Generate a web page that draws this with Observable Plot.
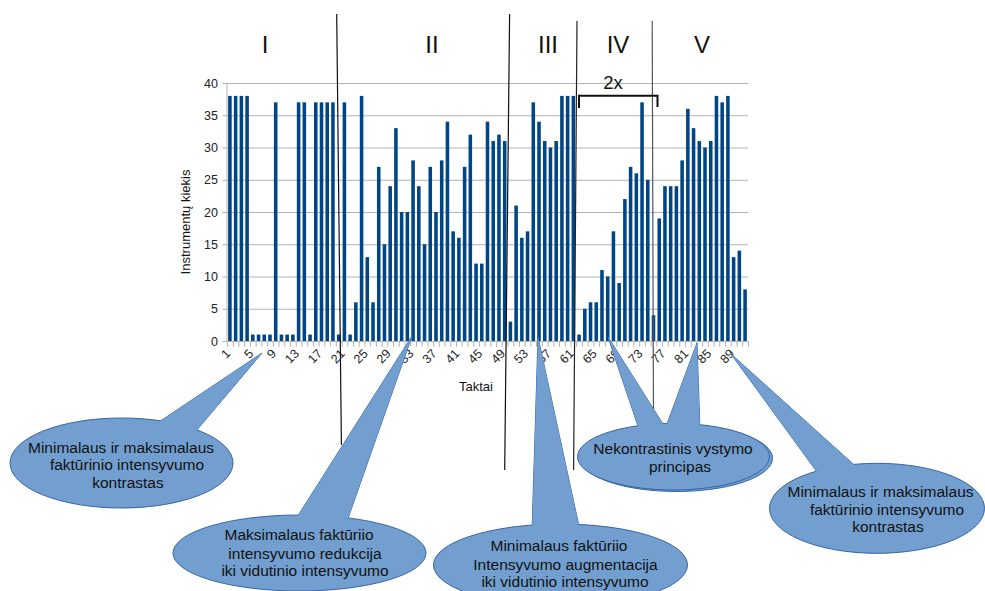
<!DOCTYPE html>
<html><head><meta charset="utf-8">
<script src="https://cdn.jsdelivr.net/npm/d3@7"></script>
<script src="https://cdn.jsdelivr.net/npm/@observablehq/plot@0.6"></script>
<style>body{margin:0;background:#fff}svg{display:block}</style>
</head><body><div id="chart"></div>
<script>
// Categories (Taktai)
const taktai = [1,2,3,4,5,6,7,8,9,10,11,12,13,14,15,16,17,18,19,20,21,22,23,24,25,26,27,28,29,30,
31,32,33,34,35,36,37,38,39,40,41,42,43,44,45,46,47,48,49,50,51,52,53,54,55,56,57,58,59,60,
61,62,63,64,65,66,67,68,69,70,71,72,73,74,75,76,77,78,79,80,81,82,83,84,85,86,87,88,89,90,91];
// Instrumentų kiekis
const kiekis = [38,38,38,38,1,1,1,1,37,1,1,1,37,37,1,37,37,37,37,1,37,1,6,38,13,
6,27,15,24,33,20,20,28,24,15,27,20,28,34,17,16,27,32,12,12,34,31,32,31,3,
21,16,17,37,34,31,30,31,38,38,38,1,5,6,6,11,10,17,9,22,27,26,37,25,4,
19,24,24,24,28,36,33,31,30,31,38,37,38,13,14,8];
const xTickLabels = [1,5,9,13,17,21,25,29,33,37,41,45,49,53,57,61,65,69,73,77,81,85,89];
const yTicks = [0,5,10,15,20,25,30,35,40];
const sections = ["I","II","III","IV","V"];
const calloutTexts = [
  ["Minimalaus ir maksimalaus","faktūrinio intensyvumo","kontrastas"],
  ["Maksimalaus faktūriio","intensyvumo redukcija","iki vidutinio intensyvumo"],
  ["Minimalaus faktūriio","Intensyvumo augmentacija","iki vidutinio intensyvumo"],
  ["Nekontrastinis vystymo","principas"],
  ["Minimalaus ir maksimalaus","faktūrinio intensyvumo","kontrastas"]
];
const bracketLabel = "2x";
const xTitle = "Taktai";
const yTitle = "Instrumentų kiekis";

const data = taktai.map((t, i) => ({t, v: kiekis[i]}));

const W = 985, H = 591, ML = 227, MR = 237, MT = 83, MB = 250;
const pI = 0.38, pO = 0.2;
const step = (W - ML - MR) / (taktai.length - pI + 2 * pO);

const plot = Plot.plot({
  width: W, height: H,
  marginLeft: ML, marginRight: MR, marginTop: MT, marginBottom: MB,
  style: {fontFamily: "Liberation Sans, Arial, sans-serif", fontSize: "12.5px", color: "#222", background: "#fff"},
  x: {type: "band", domain: taktai, paddingInner: pI, paddingOuter: pO, round: false, label: null},
  y: {domain: [0, 40], label: null},
  marks: [
    Plot.gridY(yTicks, {stroke: "#b3b3b3", strokeOpacity: 1}),
    Plot.barY(data, {x: "t", y: "v", fill: "#004586"}),
    Plot.ruleY([0], {stroke: "#b3b3b3"}),
    Plot.ruleX(taktai, {x: d => d, y1: 0, y2: -0.9, dx: -step / 2, stroke: "#b3b3b3"}),
    Plot.ruleX([taktai[taktai.length - 1]], {x: d => d, y1: 0, y2: -0.9, dx: step / 2, stroke: "#b3b3b3"}),
    Plot.axisY(yTicks, {tickSize: 4.5, tickPadding: 5, stroke: "#b3b3b3", fontSize: 12.5, fill: "#222"}),
    Plot.axisX(xTickLabels, {tickSize: 0, tickPadding: 10, dx: -2, tickRotate: -45, fontSize: 12.5, fill: "#222"})
  ]
});
document.getElementById("chart").appendChild(plot);

const svg = d3.select(plot);
const xr = plot.scale("x").range, yr = plot.scale("y").range;
const g = svg.append("g");
const FONT = "Liberation Sans, Arial, sans-serif";

// left axis line
g.append("line").attr("x1", xr[0]).attr("x2", xr[0]).attr("y1", yr[0]).attr("y2", yr[1])
  .attr("stroke", "#b3b3b3");

// axis titles
g.append("text").attr("x", 476).attr("y", 391).attr("text-anchor", "middle")
  .attr("font-family", FONT).attr("font-size", 13).attr("fill", "#111").text(xTitle);
g.append("text").attr("transform", "translate(190,222) rotate(-90)").attr("text-anchor", "middle")
  .attr("font-family", FONT).attr("font-size", 13).attr("fill", "#111").text(yTitle);

// section dividers
const dividers = [
  [[336.7,14],[341.4,445],"#111"],
  [[509.6,14],[504.7,470],"#111"],
  [[577,21],[573.6,470],"#222"],
  [[652.2,21],[653.5,425],"#555"]
];
dividers.forEach(([a,b,c]) => g.append("line").attr("x1",a[0]).attr("y1",a[1]).attr("x2",b[0]).attr("y2",b[1])
  .attr("stroke", c).attr("stroke-width", 1.2));

// section numerals
const numeralX = [265, 432, 548, 618, 702];
sections.forEach((s, i) => g.append("text").attr("x", numeralX[i]).attr("y", 52.5).attr("text-anchor","middle")
  .attr("font-family", FONT).attr("font-size", 24).attr("fill","#111").text(s));

// bracket 2x
g.append("path").attr("d", "M579,108 V95.7 H657.5 V107").attr("fill","none").attr("stroke","#111").attr("stroke-width",2);
g.append("text").attr("x", 613).attr("y", 88.5).attr("text-anchor","middle")
  .attr("font-family", FONT).attr("font-size", 18.5).attr("fill","#111").text(bracketLabel);

// callouts
const callouts = [
  {cx:121.5, cy:463, rx:111.5, ry:45, tails:[[[262,353],[150,428],[196,431]]],
   tx:[121,127,128], ty:[452.5,470,487.5]},
  {cx:299.5, cy:553, rx:126.5, ry:38, tails:[[[412,336],[294,522],[346,524]]],
   tx:[299,305,305], ty:[540,558.5,576]},
  {cx:560.5, cy:565, rx:127, ry:41, tails:[[[538,337],[532,532],[580,531]]],
   tx:[559,565.5,565], ty:[551,569.5,587]},
  {cx:673.5, cy:456.7, rx:96, ry:33.3, shadow:true,
   tails:[[[608,337],[640,432],[668,432]],[[697,343],[664,432],[700,432]]],
   tx:[673,680], ty:[453.5,471.5]},
  {cx:877, cy:508.3, rx:107.5, ry:45, tails:[[[731,354],[820,476],[862,472]]],
   tx:[880.5,887,888], ty:[497,515,532]}
];
const FILL = "#729fcf", STROKE = "#3465a4";
callouts.forEach((c, k) => {
  const cg = g.append("g");
  c.tails.forEach(t => cg.append("polygon").attr("points", t.map(p => p.join(",")).join(" "))
    .attr("fill", FILL).attr("stroke", STROKE).attr("stroke-width", 1));
  if (c.shadow) cg.append("ellipse").attr("cx", c.cx + 3).attr("cy", c.cy + 1.5).attr("rx", c.rx).attr("ry", c.ry)
    .attr("fill", FILL).attr("stroke", STROKE).attr("stroke-width", 1);
  cg.append("ellipse").attr("cx", c.cx).attr("cy", c.cy).attr("rx", c.rx).attr("ry", c.ry)
    .attr("fill", FILL).attr("stroke", STROKE).attr("stroke-width", 1);
  c.tails.forEach(t => cg.append("polygon").attr("points", t.map(p => p.join(",")).join(" "))
    .attr("fill", FILL).attr("stroke", "none"));
  calloutTexts[k].forEach((line, i) => cg.append("text").attr("x", c.tx[i]).attr("y", c.ty[i])
    .attr("text-anchor","middle").attr("font-family", FONT).attr("font-size", 15.5).attr("fill","#111").text(line));
});
</script></body></html>
